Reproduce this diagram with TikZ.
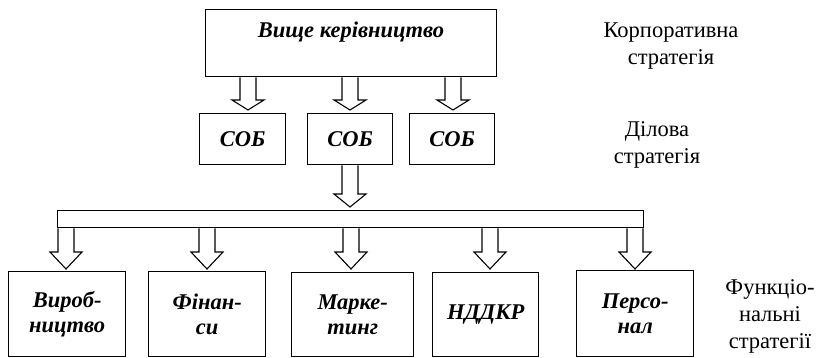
\documentclass[tikz,border=0pt]{standalone}
\usepackage{fontspec}
\setmainfont{Liberation Serif}
\usetikzlibrary{calc}

\tikzset{
  box/.style={draw, line width=1.4pt, rectangle, inner sep=0pt, anchor=north west},
  boxtext/.style={font=\fontsize{22.5}{25}\selectfont\bfseries\itshape, align=center},
  side/.style={font=\fontsize{22.5}{27}\selectfont, align=center},
  blockarr/.style={draw, line width=1.1pt, fill=white, line join=miter},
}

% hollow block arrow: start point, tip point, head length
\newcommand\blockarrow[3]{%
  \draw[blockarr] let \p1=(#1), \p2=(#2) in
    (\x1-8pt,\y1) -- (\x1-8pt,\y2+#3) -- (\x1-16pt,\y2+#3) -- (\x2,\y2)
    -- (\x1+16pt,\y2+#3) -- (\x1+8pt,\y2+#3) -- (\x1+8pt,\y1);
}

\begin{document}
\begin{tikzpicture}[x=1pt,y=-1pt]
\useasboundingbox (0,0) rectangle (823,357);

% top management
\node[box, minimum width=291pt, minimum height=67pt] (top) at (205,9) {};
\node[boxtext] (toptext) at (351,32) {Вище керівництво};

% business units
\node[box, minimum width=86pt, minimum height=51pt] (sob1) at (199,113) {};
\node[box, minimum width=85pt, minimum height=51pt] (sob2) at (307,113) {};
\node[box, minimum width=85pt, minimum height=51pt] (sob3) at (409,113) {};
\node[boxtext] (sob1t) at (sob1.center) {СОБ};
\node[boxtext] (sob2t) at (sob2.center) {СОБ};
\node[boxtext] (sob3t) at (sob3.center) {СОБ};

% distribution bar
\node[box, line width=1.3pt, minimum width=586pt, minimum height=17pt] (bar) at (57,210) {};

% functional units
\node[box, minimum width=117pt, minimum height=85pt] (f1) at (8,271) {};
\node[box, minimum width=117pt, minimum height=85pt] (f2) at (148,271) {};
\node[box, minimum width=122pt, minimum height=84pt] (f3) at (291,272) {};
\node[box, minimum width=106pt, minimum height=84pt] (f4) at (432,272) {};
\node[box, minimum width=117pt, minimum height=86pt] (f5) at (576,270) {};
\node[boxtext] (f1t) at (f1.center) {Вироб-\\ництво};
\node[boxtext] (f2t) at (f2.center) {Фінан-\\си};
\node[boxtext] (f3t) at (f3.center) {Марке-\\тинг};
\node[boxtext] (f4t) at (f4.center) {НДДКР};
\node[boxtext] (f5t) at (f5.center) {Персо-\\нал};

% arrows from top management to business units
\blockarrow{top.south -| 248,0}{248,110}{10pt}
\blockarrow{top.south -| 350,0}{350,110}{10pt}
\blockarrow{top.south -| 453,0}{453,110}{10pt}

% arrow from the middle unit to the bar
\blockarrow{sob2.south -| 350,0}{350,207}{13pt}

% arrows from the bar to the functional units
\blockarrow{bar.south -| 66,0}{66,269}{17pt}
\blockarrow{bar.south -| 207,0}{207,269}{17pt}
\blockarrow{bar.south -| 351,0}{351,269}{17pt}
\blockarrow{bar.south -| 490,0}{490,269}{17pt}
\blockarrow{bar.south -| 635,0}{635,269}{17pt}

% level captions
\node[side] (corp) at (671,46) {Корпоративна\\стратегія};
\node[side] (bus) at (657,145) {Ділова\\стратегія};
\node[side] (func) at (770,316) {Функціо-\\нальні\\стратегії};
\end{tikzpicture}
\end{document}
